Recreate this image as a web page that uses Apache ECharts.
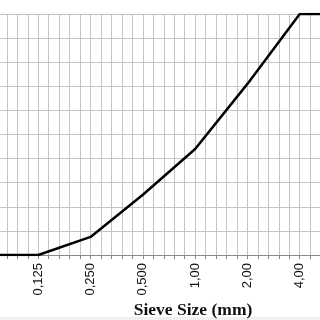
<!DOCTYPE html>
<html>
<head>
<meta charset="utf-8">
<script src="https://cdn.jsdelivr.net/npm/echarts@6/dist/echarts.min.js"></script>
<style>
  html, body { margin: 0; padding: 0; background: #fff; }
  #main { width: 320px; height: 320px; }
</style>
</head>
<body>
<div id="main"></div>
<script>
// sieve sizes (mm) and cumulative passing (%)
var sieveSizes = [0.0625, 0.125, 0.25, 0.5, 1, 2, 4, 8];
var passing = [0, 0, 7.5, 25, 44, 71, 100, 100];
var yTicks = [0, 10, 20, 30, 40, 50, 60, 70, 80, 90, 100];

var chart = echarts.init(document.getElementById('main'));

var points = sieveSizes.map(function (s, i) { return [s, passing[i]]; });

var gridColor = '#c4c4c4';

var option = {
    animation: false,
    title: {
        text: 'Sieve Size (mm)',
        left: 188,
        top: 296,
        textAlign: 'center',
        textStyle: {
            fontFamily: 'Liberation Serif',
            fontWeight: 'bold',
            fontSize: 17.5,
            color: '#111'
        }
    },
    graphic: [{
        type: 'rect',
        shape: { x: 0, y: 317, width: 320, height: 3 },
        style: { fill: '#f0f0f0' },
        silent: true
    }],
    grid: { left: -14, right: -32, top: 14, bottom: 65, outerBoundsMode: 'none', containLabel: false },
    xAxis: [{
        type: 'log',
        logBase: 2,
        min: 0.0625,
        max: 8,
        axisLine: { lineStyle: { color: '#888', width: 1 } },
        axisTick: { show: true, length: 4, lineStyle: { color: '#888' } },
        splitLine: { show: false },
        axisLabel: {
            rotate: 90,
            margin: 8,
            fontFamily: 'Liberation Sans',
            fontSize: 13,
            color: '#111',
            formatter: function (v) {
                return (v < 1 ? v.toFixed(3) : v.toFixed(2)).replace('.', ',');
            }
        }
    }, {
        // fine grid: five divisions per octave (log2 units)
        type: 'value',
        position: 'bottom',
        min: -4,
        max: 3,
        interval: 0.2,
        axisLine: { show: false },
        axisTick: { show: true, length: 4, lineStyle: { color: '#888' } },
        axisLabel: { show: false },
        splitLine: { show: true, lineStyle: { color: gridColor, width: 1 } }
    }],
    yAxis: {
        type: 'value',
        min: yTicks[0],
        max: yTicks[yTicks.length - 1],
        interval: 10,
        axisLine: { show: false },
        axisTick: { show: false },
        axisLabel: { show: false },
        splitLine: { show: true, lineStyle: { color: gridColor, width: 1 } }
    },
    series: [{
        type: 'line',
        xAxisIndex: 0,
        data: points,
        symbol: 'none',
        lineStyle: { color: '#000', width: 2.5 }
    }]
};

chart.setOption(option);
</script>
</body>
</html>
